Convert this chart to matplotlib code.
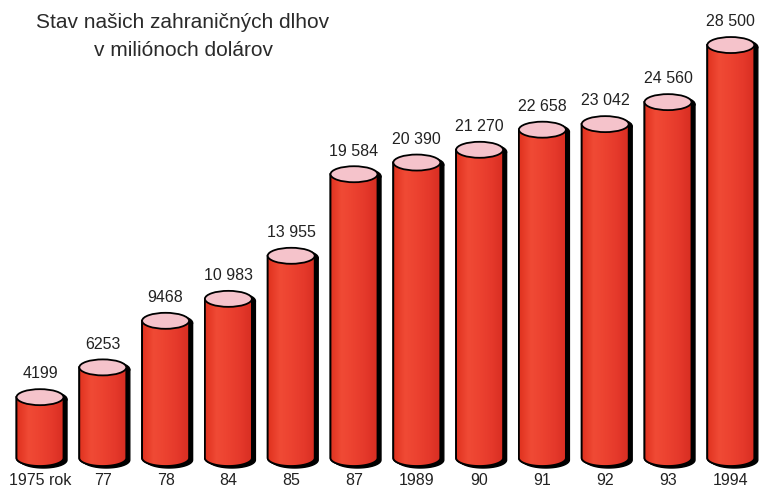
import numpy as np
import matplotlib.pyplot as plt
from matplotlib.patches import Polygon, Ellipse
from matplotlib.colors import LinearSegmentedColormap

# -------------------------
# Data
# -------------------------
years = ['1975 rok', '77', '78', '84', '85', '87', '1989', '90', '91', '92', '93', '1994']
debt = [4199, 6253, 9468, 10983, 13955, 19584, 20390, 21270, 22658, 23042, 24560, 28500]
debt_labels = ['4199', '6253', '9468', '10 983', '13 955', '19 584', '20 390',
               '21 270', '22 658', '23 042', '24 560', '28 500']

# -------------------------
# Figure / geometry
# -------------------------
W, H = 772, 487
fig = plt.figure(figsize=(W / 100, H / 100), dpi=100)
ax = fig.add_axes([0, 0, 1, 1])

px_x = 62.8                 # pixels per bar slot
px_y = 0.01449              # pixels per million
x0_px, base_px = 40, 458    # first bar centre, baseline
ax.set_xlim(-x0_px / px_x, (W - x0_px) / px_x)
ax.set_ylim((base_px - H) / px_y, base_px / px_y)
ax.axis('off')

bw = 47 / px_x              # cylinder width
eh = 16 / px_y              # ellipse height
sh_dx = 3.5 / px_x          # shadow offset
sh_dy = 2.0 / px_y

red = '#e8392b'
pink = '#f5c3cb'
cmap = LinearSegmentedColormap.from_list(
    'body', ['#e0321f', '#f04a35', '#ec4230', '#e5392b', '#d82e22'])

t = np.linspace(np.pi, 2 * np.pi, 60)


def cylinder_outline(xc, top, dx=0.0, dy=0.0):
    # left side down, bottom half ellipse, right side up
    bx = xc + dx + bw / 2 * np.cos(t)
    by = dy + eh / 2 * np.sin(t)
    pts = [(xc + dx - bw / 2, top + dy)] + list(zip(bx, by)) + [(xc + dx + bw / 2, top + dy)]
    return pts


for i, (v, lab, yr) in enumerate(zip(debt, debt_labels, years)):
    # dark shadow on the right and below
    ax.add_patch(Polygon(cylinder_outline(i, v, sh_dx, -sh_dy), closed=True,
                         facecolor='black', edgecolor='black', lw=1, zorder=2))
    ax.add_patch(Ellipse((i + sh_dx, v - sh_dy), bw, eh, facecolor='black',
                         edgecolor='black', zorder=2))
    # red body with soft shading
    body = Polygon(cylinder_outline(i, v), closed=True, facecolor=red,
                   edgecolor='black', lw=1.3, zorder=3)
    ax.add_patch(body)
    grad = np.linspace(0, 1, 100).reshape(1, -1)
    im = ax.imshow(grad, cmap=cmap, aspect='auto', zorder=3.5,
                   extent=(i - bw / 2, i + bw / 2, -eh, v))
    im.set_clip_path(body)
    ax.add_patch(Polygon(cylinder_outline(i, v), closed=True, facecolor='none',
                         edgecolor='black', lw=1.3, zorder=4))
    # pink top
    ax.add_patch(Ellipse((i, v), bw, eh, facecolor=pink, edgecolor='black',
                         lw=1.3, zorder=5))
    # value and year labels
    ax.text(i, v + 1600, lab, ha='center', va='center', fontsize=11.5,
            family='Liberation Sans', color='#222222')
    ax.text(i, -1520, yr, ha='center', va='center', fontsize=11.5,
            family='Liberation Sans', color='#222222')

# -------------------------
# Title
# -------------------------
fig.text(183 / W, 1 - 22 / H, 'Stav našich zahraničných dlhov', ha='center',
         va='center', fontsize=15, family='Liberation Sans', color='#2a2a2a')
fig.text(183 / W, 1 - 51 / H, 'v miliónoch dolárov', ha='center',
         va='center', fontsize=15, family='Liberation Sans', color='#2a2a2a')

fig.savefig('out.png', dpi=100)
